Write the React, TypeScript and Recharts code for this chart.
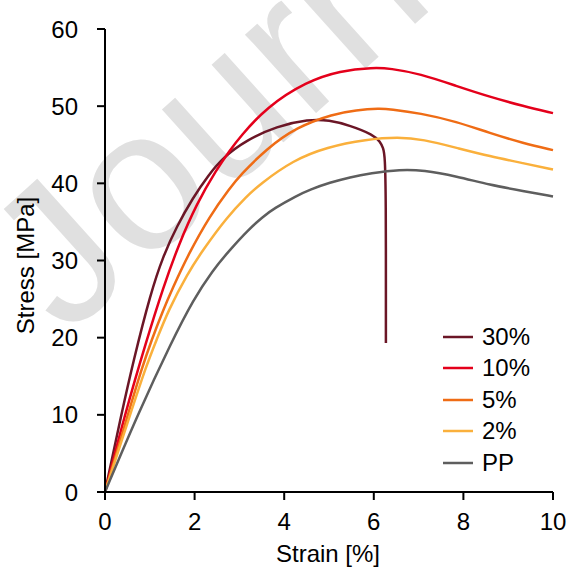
import React from "react";
import { LineChart, Line, XAxis, YAxis, Legend } from "recharts";

// strain [%] / stress [MPa]
const strain30 = [0, 0.37, 0.63, 1.02, 1.3, 1.6, 1.97, 2.3, 2.64, 3.16, 3.83, 4.55, 5.0, 5.47, 5.99, 6.14, 6.21, 6.25, 6.27, 6.27, 6.27];
const stress30 = [0, 10.2, 16.9, 25.8, 30.6, 34.4, 38.2, 41.0, 43.4, 45.6, 47.4, 48.3, 48.2, 47.5, 46.3, 45.4, 44.6, 43.5, 38.0, 25.0, 19.3];

const strain10 = [0, 0.45, 0.93, 1.3, 1.64, 2.05, 2.49, 2.79, 3.01, 3.61, 4.5, 5.25, 5.99, 6.36, 7.03, 7.85, 8.59, 9.34, 10];
const stress10 = [0, 10.2, 19.7, 26.5, 32.0, 37.4, 41.8, 44.3, 46.0, 49.9, 53.2, 54.6, 55.0, 54.9, 54.2, 52.6, 51.2, 50.0, 49.1];

const strain5 = [0, 0.52, 0.82, 1.04, 1.3, 1.5, 1.86, 2.34, 2.79, 3.01, 3.61, 4.28, 5.1, 5.6, 6.14, 6.36, 7.03, 7.85, 8.59, 9.34, 10];
const stress5 = [0, 10.2, 16.0, 19.7, 23.6, 26.3, 30.8, 35.8, 39.4, 41.0, 44.5, 47.3, 49.0, 49.5, 49.7, 49.6, 49.1, 48.0, 46.5, 45.2, 44.3];

const strain2 = [0, 0.57, 0.93, 1.15, 1.41, 1.84, 2.19, 2.72, 3.16, 3.46, 4.2, 4.95, 5.84, 6.55, 7.1, 7.85, 8.59, 9.34, 10];
const stress2 = [0, 10.2, 16.5, 19.7, 23.5, 28.3, 31.4, 35.6, 38.3, 39.9, 43.0, 44.7, 45.7, 46.0, 45.7, 44.6, 43.5, 42.6, 41.8];

const strainPP = [0, 0.74, 1.49, 1.97, 2.4, 2.79, 3.2, 3.53, 3.76, 4.28, 4.58, 5.02, 5.47, 5.92, 6.6, 7.1, 7.85, 8.59, 9.34, 10];
const stressPP = [0, 10.2, 19.5, 24.9, 28.7, 31.4, 34.0, 35.7, 36.7, 38.4, 39.2, 40.1, 40.8, 41.3, 41.8, 41.7, 40.9, 39.8, 39.0, 38.3];

const xTicks = [0, 2, 4, 6, 8, 10];
const yTicks = [0, 10, 20, 30, 40, 50, 60];

const FONT = "'Liberation Sans', Arial, sans-serif";

const toPoints = (xs: number[], ys: number[]) => xs.map((strain, i) => ({ strain, stress: ys[i] }));

const series = [
    { name: "30%", color: "#6b1626", data: toPoints(strain30, stress30) },
    { name: "10%", color: "#e4001b", data: toPoints(strain10, stress10) },
    { name: "5%", color: "#ef6c15", data: toPoints(strain5, stress5) },
    { name: "2%", color: "#fab03c", data: toPoints(strain2, stress2) },
    { name: "PP", color: "#5e5e5e", data: toPoints(strainPP, stressPP) },
];
const order = series.map((s) => s.name);

const YLabel = ({ viewBox }: any) => {
    const x = viewBox.x + 25;
    const y = viewBox.y + viewBox.height / 2 + 5;
    return (
        <text x={x} y={y} transform={`rotate(-90 ${x} ${y})`} textAnchor="middle" dominantBaseline="central"
            fontFamily={FONT} fontSize={24} fill="#000">
            Stress [MPa]
        </text>
    );
};

const XLabel = ({ viewBox }: any) => (
    <text x={viewBox.x + viewBox.width / 2 - 1} y={562} textAnchor="middle" fontFamily={FONT} fontSize={24} fill="#000">
        Strain [%]
    </text>
);

const renderLegend = ({ payload }: any) => {
    const items = [...(payload || [])].sort((a: any, b: any) => order.indexOf(a.value) - order.indexOf(b.value));
    return (
        <div style={{ fontFamily: FONT, fontSize: 24, color: "#000" }}>
            {items.map((p: any) => (
                <div key={p.value} style={{ height: 31.5, display: "flex", alignItems: "center" }}>
                    <svg width={30} height={4} style={{ marginRight: 9 }}>
                        <line x1={0} y1={2} x2={30} y2={2} stroke={p.color} strokeWidth={2.5} />
                    </svg>
                    <span>{p.value}</span>
                </div>
            ))}
        </div>
    );
};

export default function App() {
    return (
        <div style={{ width: 567, height: 568, position: "relative", background: "#fff" }}>
            <style>{"html,body{margin:0;padding:0;overflow:hidden}"}</style>
            <svg width={567} height={568} style={{ position: "absolute", left: 0, top: 0 }}>
                <text x={66} y={338} transform="rotate(-42 66 338)" fontFamily={FONT} fontSize={200} fill="#e0e0e0">
                    Journal Pre-proof
                </text>
            </svg>
            <LineChart width={567} height={568} margin={{ top: 29, right: 14, left: 0, bottom: 0 }}>
                <XAxis
                    dataKey="strain"
                    type="number"
                    domain={[0, 10]}
                    ticks={xTicks}
                    allowDuplicatedCategory={false}
                    height={76}
                    tickSize={8}
                    tickMargin={13}
                    axisLine={{ stroke: "#000", strokeWidth: 2 }}
                    tickLine={{ stroke: "#000", strokeWidth: 2 }}
                    tick={{ fill: "#000", fontSize: 24, fontFamily: FONT }}
                    label={<XLabel />}
                />
                <XAxis xAxisId="top" orientation="top" type="number" domain={[0, 10]} height={0}
                    tick={false} tickLine={false} axisLine={{ stroke: "#000", strokeWidth: 2 }} />
                <YAxis
                    type="number"
                    domain={[0, 60]}
                    ticks={yTicks}
                    width={105}
                    tickSize={8}
                    tickMargin={19}
                    axisLine={{ stroke: "#000", strokeWidth: 2 }}
                    tickLine={{ stroke: "#000", strokeWidth: 2 }}
                    tick={{ fill: "#000", fontSize: 24, fontFamily: FONT }}
                    label={<YLabel />}
                />
                <YAxis yAxisId="right" orientation="right" type="number" domain={[0, 60]} width={0}
                    tick={false} tickLine={false} axisLine={{ stroke: "#000", strokeWidth: 2 }} />
                <Legend
                    layout="horizontal"
                    verticalAlign="middle"
                    align="center"
                    content={renderLegend}
                    wrapperStyle={{ left: 443, top: 321, width: 110 }}
                />
                {series.map((s) => (
                    <Line
                        key={s.name}
                        data={s.data}
                        dataKey="stress"
                        name={s.name}
                        type="basis"
                        stroke={s.color}
                        strokeWidth={2.5}
                        dot={false}
                        activeDot={false}
                        isAnimationActive={false}
                    />
                ))}
            </LineChart>
        </div>
    );
}
